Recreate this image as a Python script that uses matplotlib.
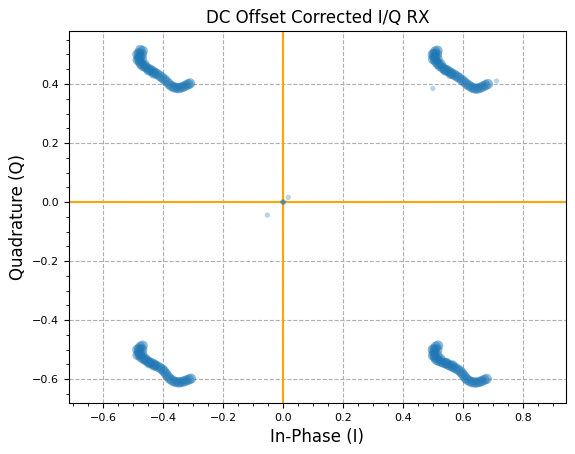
import numpy as np
import matplotlib
matplotlib.use('Agg')
import matplotlib.pyplot as plt
from matplotlib.ticker import AutoMinorLocator

# received symbols, one list per constellation point
ul_i = [-0.476, -0.468, -0.480, -0.478, -0.480, -0.477, -0.474, -0.468, -0.460, -0.452,
        -0.444, -0.436, -0.428, -0.420, -0.412, -0.404, -0.396, -0.388, -0.380, -0.372,
        -0.364, -0.356, -0.348, -0.340, -0.332, -0.324, -0.316, -0.310,
        -0.486, -0.485, -0.470, -0.471, -0.462, -0.448, -0.432]
ul_q = [0.515, 0.512, 0.505, 0.495, 0.485, 0.476, 0.468, 0.462, 0.458, 0.453,
        0.449, 0.444, 0.439, 0.434, 0.428, 0.422, 0.416, 0.408, 0.400, 0.393,
        0.389, 0.387, 0.386, 0.388, 0.391, 0.395, 0.399, 0.402,
        0.500, 0.482, 0.500, 0.484, 0.466, 0.446, 0.436]

ur_i = [0.516, 0.508, 0.505, 0.506, 0.508, 0.512, 0.518, 0.524, 0.532, 0.540,
        0.548, 0.556, 0.564, 0.572, 0.580, 0.588, 0.596, 0.604, 0.612, 0.620,
        0.628, 0.636, 0.644, 0.652, 0.660, 0.668, 0.676, 0.684,
        0.500, 0.501, 0.514, 0.516, 0.526, 0.542, 0.560]
ur_q = [0.513, 0.510, 0.502, 0.492, 0.482, 0.474, 0.467, 0.461, 0.455, 0.450,
        0.446, 0.441, 0.436, 0.431, 0.426, 0.421, 0.415, 0.408, 0.401, 0.395,
        0.390, 0.386, 0.384, 0.385, 0.388, 0.392, 0.396, 0.400,
        0.500, 0.484, 0.500, 0.485, 0.468, 0.446, 0.434]

ll_i = [-0.468, -0.476, -0.480, -0.480, -0.478, -0.474, -0.466, -0.458, -0.450, -0.442,
        -0.434, -0.426, -0.418, -0.410, -0.402, -0.396, -0.390, -0.384, -0.378, -0.370,
        -0.362, -0.354, -0.346, -0.338, -0.330, -0.322, -0.314, -0.307,
        -0.486, -0.485, -0.470, -0.470, -0.460, -0.446, -0.430]
ll_q = [-0.486, -0.490, -0.498, -0.508, -0.517, -0.525, -0.531, -0.536, -0.540, -0.544,
        -0.548, -0.552, -0.557, -0.562, -0.567, -0.574, -0.582, -0.590, -0.598, -0.604,
        -0.608, -0.610, -0.611, -0.609, -0.607, -0.604, -0.601, -0.598,
        -0.500, -0.518, -0.500, -0.515, -0.530, -0.546, -0.554]

lr_i = [0.518, 0.510, 0.506, 0.505, 0.506, 0.508, 0.512, 0.520, 0.528, 0.536,
        0.544, 0.552, 0.560, 0.568, 0.576, 0.584, 0.592, 0.598, 0.604, 0.610,
        0.616, 0.624, 0.632, 0.640, 0.648, 0.656, 0.664, 0.672, 0.680,
        0.500, 0.501, 0.515, 0.516, 0.526, 0.546, 0.566]
lr_q = [-0.486, -0.490, -0.498, -0.508, -0.518, -0.527, -0.534, -0.538, -0.541, -0.544,
        -0.547, -0.551, -0.555, -0.559, -0.563, -0.567, -0.573, -0.580, -0.588, -0.596,
        -0.602, -0.607, -0.610, -0.611, -0.611, -0.609, -0.606, -0.602, -0.599,
        -0.500, -0.520, -0.500, -0.520, -0.532, -0.545, -0.553]

# stray samples
stray_i = [0.500, 0.713, 0.018, -0.052, 0.0, 0.0, 0.002]
stray_q = [0.385, 0.410, 0.016, -0.044, 0.0, 0.001, -0.001]

clus_i = np.concatenate([ul_i, ur_i, ll_i, lr_i])
clus_q = np.concatenate([ul_q, ur_q, ll_q, lr_q])

fig = plt.figure(figsize=(5.75, 4.54), dpi=100)
ax = fig.add_axes([0.12, 0.112, 0.864, 0.82])

ax.scatter(clus_i, clus_q, s=55, alpha=0.5, color='#1f77b4', edgecolors='none', zorder=3)
ax.scatter(stray_i, stray_q, s=15, alpha=0.3, color='#1f77b4', edgecolors='none', zorder=3)
ax.axhline(0, color='orange', lw=1.5, zorder=2)
ax.axvline(0, color='orange', lw=1.5, zorder=2)

ax.set_xlim(-0.714, 0.944)
ax.set_ylim(-0.681, 0.580)
ax.set_xticks(np.arange(-0.6, 0.81, 0.2))
ax.set_yticks(np.arange(-0.6, 0.41, 0.2))
ax.xaxis.set_minor_locator(AutoMinorLocator(4))
ax.yaxis.set_minor_locator(AutoMinorLocator(4))
ax.tick_params(labelsize=8)
ax.grid(True, linestyle='--', color='#b0b0b0', lw=0.8)

ax.set_xlabel('In-Phase (I)', fontsize=12)
ax.set_ylabel('Quadrature (Q)', fontsize=12)
ax.set_title('DC Offset Corrected I/Q RX', fontsize=12)

fig.savefig('out.png', dpi=100)
